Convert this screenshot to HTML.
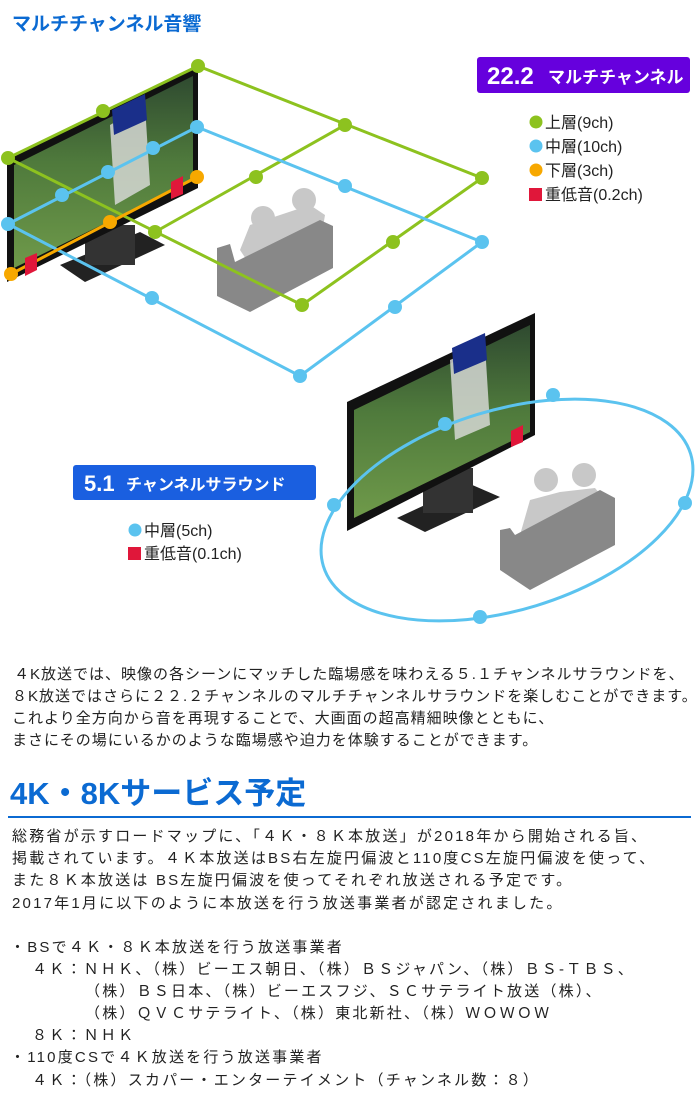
<!DOCTYPE html>
<html><head><meta charset="utf-8">
<style>
body{margin:0;background:#fff;}
#w{position:relative;width:700px;height:1115px;overflow:hidden;font-family:"Liberation Sans","Noto Sans CJK JP",sans-serif;color:#222;}
.t{position:absolute;white-space:nowrap;font-size:15px;line-height:22px;letter-spacing:1px;}
.u{letter-spacing:2.2px;}
svg{position:absolute;left:0;top:0;}
</style></head><body><div id="w">
<svg width="700" height="650" viewBox="0 0 700 650">
<defs>
<linearGradient id="scr" x1="0" y1="0" x2="0" y2="1">
<stop offset="0" stop-color="#2f4a30"/><stop offset="0.45" stop-color="#4f7a3c"/><stop offset="1" stop-color="#6f9a4a"/></linearGradient>
</defs>
<text x="12" y="30" font-size="19" font-weight="bold" fill="#0b6ad2" font-family="Liberation Sans,Noto Sans CJK JP,sans-serif">マルチチャンネル音響</text>
<polygon points="60,265 140,232 165,245 85,282" fill="#222"/>
<rect x="85" y="225" width="50" height="40" fill="#333"/>
<polygon points="7,160 198,66 198,188 7,282" fill="#111"/>
<polygon points="14,165 193,76 193,180 14,268" fill="url(#scr)"/>
<polygon points="110,125 145,105 150,185 115,205" fill="#ddd" opacity="0.8"/>
<polygon points="112,110 145,94 147,120 114,135" fill="#1a2f8a"/>
<circle cx="263" cy="218" r="12" fill="#c8c8c8"/><circle cx="304" cy="200" r="12" fill="#c8c8c8"/>
<polygon points="240,250 250,225 280,215 310,205 325,215 320,245 250,265" fill="#c8c8c8"/>
<polygon points="217,248 230,244 235,262 320,220 333,226 333,268 250,312 217,296" fill="#888"/>
<g stroke="#8dc21f" stroke-width="3" fill="none">
<polygon points="198,66 482,178 302,305 8,158"/>
<line x1="345" y1="125" x2="155" y2="232"/>
</g>
<g fill="#8dc21f">
<circle cx="198" cy="66" r="7"/><circle cx="103" cy="111" r="7"/><circle cx="8" cy="158" r="7"/>
<circle cx="345" cy="125" r="7"/><circle cx="256" cy="177" r="7"/><circle cx="155" cy="232" r="7"/>
<circle cx="482" cy="178" r="7"/><circle cx="393" cy="242" r="7"/><circle cx="302" cy="305" r="7"/>
</g>
<g stroke="#5bc3ef" stroke-width="3" fill="none">
<polygon points="197,127 482,242 300,376 8,224"/>
</g>
<g fill="#5bc3ef">
<circle cx="197" cy="127" r="7"/><circle cx="153" cy="148" r="7"/><circle cx="108" cy="172" r="7"/><circle cx="62" cy="195" r="7"/><circle cx="8" cy="224" r="7"/>
<circle cx="345" cy="186" r="7"/><circle cx="482" cy="242" r="7"/><circle cx="395" cy="307" r="7"/><circle cx="300" cy="376" r="7"/><circle cx="152" cy="298" r="7"/>
</g>
<line x1="197" y1="177" x2="11" y2="274" stroke="#f7a800" stroke-width="3"/>
<polygon points="171,182 183,176 183,194 171,199" fill="#e0173a"/>
<polygon points="25,258 37,253 37,270 25,276" fill="#e0173a"/>
<g fill="#f7a800"><circle cx="197" cy="177" r="7"/><circle cx="110" cy="222" r="7"/><circle cx="11" cy="274" r="7"/></g>
<rect x="477" y="57" width="213" height="36" rx="3" fill="#6600dd"/>
<text x="487" y="84" font-size="24" font-weight="bold" fill="#fff">22.2</text>
<text x="548" y="83" font-size="17" font-weight="bold" fill="#fff">マルチチャンネル</text>
<g font-size="16" fill="#222">
<circle cx="536" cy="122" r="6.5" fill="#8dc21f"/><text x="545" y="128">上層(9ch)</text>
<circle cx="536" cy="146" r="6.5" fill="#5bc3ef"/><text x="545" y="152">中層(10ch)</text>
<circle cx="536" cy="170" r="6.5" fill="#f7a800"/><text x="545" y="176">下層(3ch)</text>
<rect x="529" y="188" width="13" height="13" fill="#e0173a"/><text x="545" y="200">重低音(0.2ch)</text>
</g>
<polygon points="397,518 470,484 500,497 425,532" fill="#222"/>
<rect x="423" y="468" width="50" height="45" fill="#333"/>
<polygon points="347,402 535,313 535,435 347,531" fill="#111"/>
<polygon points="354,410 530,325 530,432 354,518" fill="url(#scr)"/>
<polygon points="450,360 485,345 490,425 455,440" fill="#ddd" opacity="0.8"/>
<polygon points="452,348 485,333 487,360 454,374" fill="#1a2f8a"/>
<polygon points="511,431 523,425 523,442 511,447" fill="#e0173a"/>
<circle cx="546" cy="480" r="12" fill="#c8c8c8"/><circle cx="584" cy="475" r="12" fill="#c8c8c8"/>
<polygon points="520,535 530,500 560,492 595,488 605,500 600,515" fill="#c8c8c8"/>
<polygon points="500,530 510,528 515,535 600,490 615,498 615,545 530,590 500,570" fill="#888"/>
<ellipse cx="507" cy="510" rx="192" ry="100" transform="rotate(-17 507 510)" fill="none" stroke="#5bc3ef" stroke-width="3"/>
<g fill="#5bc3ef"><circle cx="445" cy="424" r="7"/><circle cx="553" cy="395" r="7"/><circle cx="334" cy="505" r="7"/><circle cx="685" cy="503" r="7"/><circle cx="480" cy="617" r="7"/></g>
<rect x="73" y="465" width="243" height="35" rx="3" fill="#1a5fe0"/>
<text x="84" y="491" font-size="22" font-weight="bold" fill="#fff">5.1</text>
<text x="126" y="490" font-size="16" font-weight="bold" fill="#fff">チャンネルサラウンド</text>
<g font-size="16" fill="#222">
<circle cx="135" cy="530" r="6.5" fill="#5bc3ef"/><text x="144" y="536">中層(5ch)</text>
<rect x="128" y="547" width="13" height="13" fill="#e0173a"/><text x="144" y="559">重低音(0.1ch)</text>
</g>
</svg>
<div class="t" style="left:14px;top:664px">４K放送では、映像の各シーンにマッチした臨場感を味わえる５.１チャンネルサラウンドを、</div>
<div class="t" style="left:12px;top:686px">８K放送ではさらに２２.２チャンネルのマルチチャンネルサラウンドを楽しむことができます。</div>
<div class="t" style="left:12px;top:708px">これより全方向から音を再現することで、大画面の超高精細映像とともに、</div>
<div class="t" style="left:12px;top:730px">まさにその場にいるかのような臨場感や迫力を体験することができます。</div>
<div class="t" style="left:10px;top:776px;font-size:31px;line-height:36px;font-weight:bold;color:#0b6ad2;letter-spacing:0">4K・8Kサービス予定</div>
<div style="position:absolute;left:8px;top:816px;width:683px;height:2px;background:#0b6ad2"></div>
<div class="t u" style="left:12px;top:826px">総務省が示すロードマップに、「４Ｋ・８Ｋ本放送」が2018年から開始される旨、</div>
<div class="t u" style="left:12px;top:848px">掲載されています。４Ｋ本放送はBS右左旋円偏波と110度CS左旋円偏波を使って、</div>
<div class="t u" style="left:12px;top:870px">また８Ｋ本放送は BS左旋円偏波を使ってそれぞれ放送される予定です。</div>
<div class="t u" style="left:12px;top:893px">2017年1月に以下のように本放送を行う放送事業者が認定されました。</div>
<div class="t u" style="left:10px;top:937px">・BSで４Ｋ・８Ｋ本放送を行う放送事業者</div>
<div class="t u" style="left:32px;top:959px">４Ｋ：ＮＨＫ、（株）ビーエス朝日、（株）ＢＳジャパン、（株）ＢＳ-ＴＢＳ、</div>
<div class="t u" style="left:85px;top:981px">（株）ＢＳ日本、（株）ビーエスフジ、ＳＣサテライト放送（株）、</div>
<div class="t u" style="left:85px;top:1003px">（株）ＱＶＣサテライト、（株）東北新社、（株）ＷＯＷＯＷ</div>
<div class="t u" style="left:32px;top:1025px">８Ｋ：ＮＨＫ</div>
<div class="t u" style="left:10px;top:1047px">・110度CSで４Ｋ放送を行う放送事業者</div>
<div class="t u" style="left:32px;top:1070px">４Ｋ：（株）スカパー・エンターテイメント（チャンネル数：８）</div>
</div></body></html>
